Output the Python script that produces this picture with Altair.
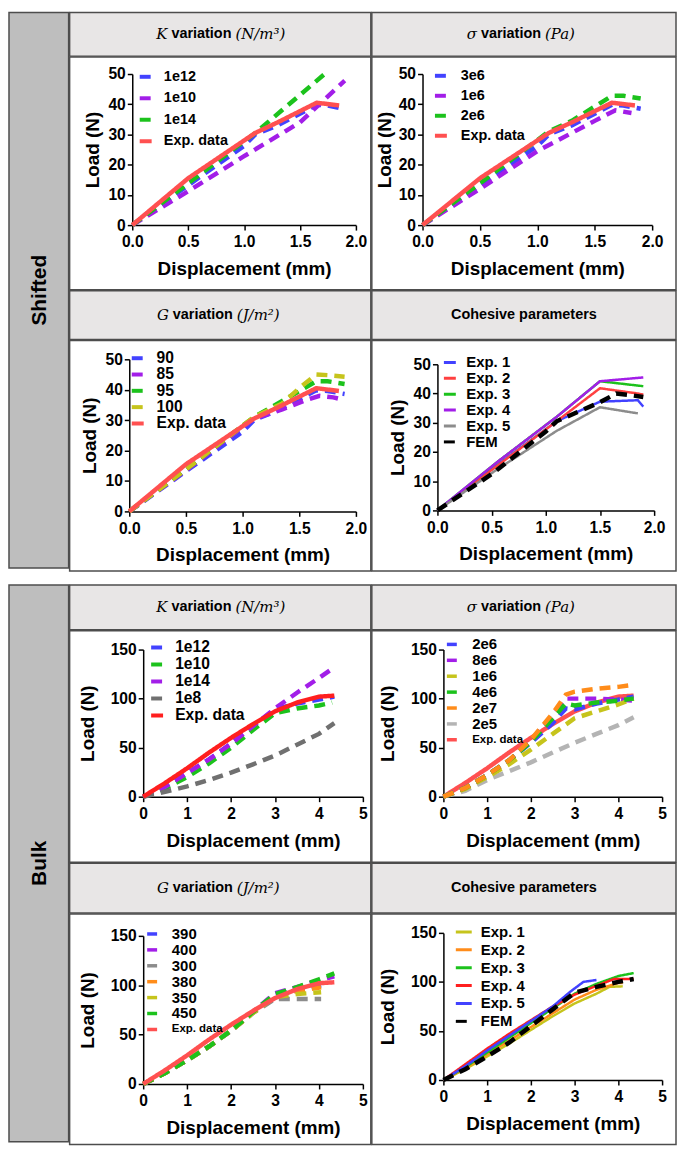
import altair as alt
import pandas as pd

FONT = "Liberation Sans"
SERIF = "DejaVu Serif"
BORDER = "#4d4d4d"
HDR_FILL = "#e8e6e6"
SIDE_FILL = "#bebebe"

ROW_LABELS = ["Shifted", "Bulk"]
X_TITLE = "Displacement (mm)"
Y_TITLE = "Load (N)"
HDR_K = ["K", "variation", "(N/m³)"]
HDR_S = ["σ", "variation", "(Pa)"]
HDR_G = ["G", "variation", "(J/m²)"]
HDR_C = "Cohesive parameters"

SH_XTICKS = [0.0, 0.5, 1.0, 1.5, 2.0]
SH_YTICKS = [0, 10, 20, 30, 40, 50]
BU_XTICKS = [0, 1, 2, 3, 4, 5]
BU_YTICKS = [0, 50, 100, 150]

# ---------------- Shifted ----------------
SH_EXP_X = [0, 0.5, 1.1, 1.3, 1.65, 1.85]
SH_EXP_Y = [0, 15.5, 30.5, 34, 40.5, 39.6]

SK_1E12_X = [0, 0.5, 1.0, 1.1, 1.3, 1.65, 1.75, 1.9]
SK_1E12_Y = [0, 13.2, 26.2, 30, 33, 39.8, 39.6, 38.4]
SK_1E10_X = [0, 0.5, 1.0, 1.5, 1.9]
SK_1E10_Y = [0, 11.2, 22.8, 34, 47.8]
SK_1E14_X = [0, 0.5, 1.1, 1.72]
SK_1E14_Y = [0, 13.8, 30.5, 50]

SS_3E6_X = [0, 0.5, 1.0, 1.1, 1.3, 1.65, 1.75, 1.9]
SS_3E6_Y = [0, 13.2, 26.2, 30, 33, 39.8, 39.6, 38.5]
SS_1E6_X = [0, 0.5, 1.0, 1.5, 1.68, 1.82]
SS_1E6_Y = [0, 12, 24.5, 34.5, 38, 37.1]
SS_2E6_X = [0, 0.5, 1.1, 1.3, 1.65, 1.75, 1.9]
SS_2E6_Y = [0, 13.8, 31, 34.5, 42.8, 42.8, 41.9]

SG_90_X = [0, 0.5, 1.0, 1.1, 1.3, 1.65, 1.75, 1.9]
SG_90_Y = [0, 13.2, 26.2, 30, 33, 39.8, 39.6, 38.6]
SG_85_X = [0, 0.5, 1.1, 1.35, 1.55, 1.68, 1.8, 1.9]
SG_85_Y = [0, 13.5, 30.5, 33.5, 36.5, 38, 37.5, 36.6]
SG_95_X = [0, 0.5, 1.1, 1.5, 1.65, 1.75, 1.9]
SG_95_Y = [0, 13.8, 31, 39.5, 42.8, 42.8, 41.9]
SG_100_X = [0, 0.5, 1.1, 1.35, 1.5, 1.65, 1.75, 1.9]
SG_100_Y = [0, 13.8, 31, 35.5, 40.5, 45, 44.8, 44.3]

SC_E1_X = [0, 0.55, 1.1, 1.5, 1.85, 1.9]
SC_E1_Y = [0, 15.5, 30.5, 37.2, 37.7, 35.5]
SC_E2_X = [0, 0.55, 1.1, 1.5, 1.85, 1.9]
SC_E2_Y = [0, 15.2, 30.5, 41.8, 40, 39.6]
SC_E3_X = [0, 0.55, 1.1, 1.5, 1.9]
SC_E3_Y = [0, 16.5, 32, 44.2, 42.5]
SC_E4_X = [0, 0.55, 1.1, 1.5, 1.9]
SC_E4_Y = [0, 16.5, 32, 44.2, 45.5]
SC_E5_X = [0, 0.55, 1.1, 1.5, 1.85]
SC_E5_Y = [0, 14, 27.2, 35.3, 33.2]
SC_FEM_X = [0, 0.5, 1.0, 1.1, 1.5, 1.65, 1.75, 1.9]
SC_FEM_Y = [0, 12.4, 27, 30.5, 37, 40, 39.6, 38.8]

# ---------------- Bulk ----------------
BU_EXP_X = [0, 0.5, 1, 1.5, 2, 2.5, 3, 3.5, 4, 4.35]
BU_EXP_Y = [0, 14, 29, 45, 60, 74, 87, 96, 102, 103]

BK_1E12_X = [0, 0.5, 1, 1.5, 2, 2.5, 3, 3.5, 4, 4.35]
BK_1E12_Y = [0, 10, 24, 38, 54, 72, 89, 95, 99, 102]
BK_1E10_X = [0, 0.5, 1, 1.5, 2, 2.5, 3, 3.5, 4, 4.3]
BK_1E10_Y = [0, 8.5, 20, 34, 50, 68, 85, 90, 93, 96]
BK_1E14_X = [0, 0.5, 1, 1.5, 2, 2.5, 3, 3.5, 4, 4.35]
BK_1E14_Y = [0, 10, 24, 38, 54, 72, 90, 106, 121, 132]
BK_1E8_X = [0, 0.5, 1, 1.5, 2, 2.5, 3, 3.5, 4, 4.35]
BK_1E8_Y = [0, 5, 10.5, 17, 24.5, 33, 42, 53, 64, 75]

BS_2E6_X = [0, 0.5, 1, 1.5, 2, 2.5, 2.8, 3, 3.5, 4, 4.35]
BS_2E6_Y = [0, 9, 22, 37, 55, 75, 90, 89, 95, 99, 102]
BS_8E6_X = [0, 0.5, 1, 1.5, 2, 2.5, 2.8, 3, 3.5, 4, 4.35]
BS_8E6_Y = [0, 9, 22, 37, 57, 82, 100, 100, 100, 99, 98]
BS_1E6_X = [0, 0.5, 1, 1.5, 2, 2.5, 3, 3.5, 4, 4.35]
BS_1E6_Y = [0, 8, 20, 33, 48, 64, 80, 87, 94, 100]
BS_4E6_X = [0, 0.5, 1, 1.5, 2, 2.5, 2.8, 3, 3.5, 4, 4.35]
BS_4E6_Y = [0, 9, 22, 37, 56, 80, 95, 93, 96, 98, 100]
BS_2E7_X = [0, 0.5, 1, 1.5, 2, 2.5, 2.8, 3, 3.5, 4, 4.35]
BS_2E7_Y = [0, 9, 22, 37, 58, 85, 104, 107, 110, 112, 114]
BS_2E5_X = [0, 0.5, 1, 1.5, 2, 2.5, 3, 3.5, 4, 4.35]
BS_2E5_Y = [0, 6, 17, 26, 35, 45, 55, 64, 73, 81]

BG_390_X = [0, 0.5, 1, 1.5, 2, 2.5, 3, 3.5, 4.05]
BG_390_Y = [0, 11, 24, 38, 54, 72, 90, 95, 100]
BG_400_X = [0, 0.5, 1, 1.5, 2, 2.5, 3, 3.5, 4, 4.35]
BG_400_Y = [0, 11, 24, 38, 54, 73, 92, 98, 105, 109]
BG_300_X = [0, 0.5, 1, 1.5, 2, 2.5, 3, 3.5, 4.05]
BG_300_Y = [0, 11, 24, 38, 54, 72, 86, 86, 86]
BG_380_X = [0, 0.5, 1, 1.5, 2, 2.5, 3, 3.5, 4.05]
BG_380_Y = [0, 11, 24, 38, 54, 72, 90, 94, 98]
BG_350_X = [0, 0.5, 1, 1.5, 2, 2.5, 3, 3.5, 4.05]
BG_350_Y = [0, 11, 24, 38, 54, 72, 88, 91, 93]
BG_450_X = [0, 0.5, 1, 1.5, 2, 2.5, 3, 3.5, 4, 4.35]
BG_450_Y = [0, 11, 24, 38, 54, 73, 91, 98, 106, 112]

BC_E1_X = [0, 0.5, 1, 1.5, 2, 2.5, 3, 3.5, 3.8, 4.1]
BC_E1_Y = [0, 11, 24, 37, 51, 65, 78, 88, 95, 95.5]
BC_E2_X = [0, 0.5, 1, 1.5, 2, 2.5, 3, 3.5, 4, 4.1]
BC_E2_Y = [0, 12, 26, 40, 54, 68, 82, 92, 99, 99]
BC_E3_X = [0, 0.5, 1, 1.5, 2, 2.5, 3, 3.5, 4, 4.35]
BC_E3_Y = [0, 13, 28, 43, 58, 73, 88, 98, 106, 109]
BC_E4_X = [0, 0.5, 1, 1.5, 2, 2.5, 3, 3.5, 3.9, 4.35]
BC_E4_Y = [0, 16, 32, 47, 61, 75, 87, 96, 103, 103]
BC_E5_X = [0, 0.5, 1, 1.5, 2, 2.5, 2.9, 3.2, 3.5]
BC_E5_Y = [0, 14, 30, 45, 60, 75, 90, 100, 102]
BC_FEM_X = [0, 0.5, 1, 1.5, 2, 2.5, 3, 3.5, 4, 4.35]
BC_FEM_Y = [0, 11, 24, 38, 55, 72, 89, 95, 100, 103]

BLUE = "#4242ff"
PURPLE = "#a21ee8"
GREEN = "#1cc21c"
RED = "#ff5050"
RED_D = "#ff1f1f"
GRAY = "#8c8c8c"
GRAY_D = "#707070"
GRAY_L = "#b4b4b4"
YELLOW = "#c6c41c"
ORANGE = "#ff8c1a"
BLACK = "#000000"

DASH = [11, 7]
SOLID = [1, 0]
GAP = -1.5
SMALL_EXP = {"expr": "datum.label == 'Exp. data' ? 11.5 : 15"}


def panel(series, colors, dashes, top, geom, axes, leg, sw_base, sw_top, ytp):
    names = [s[0] for s in series]
    rows = []
    for name, xs, ys in series:
        for i, (a, b) in enumerate(zip(xs, ys)):
            rows.append({"s": name, "x": a, "y": b, "i": i, "top": name in top})
    df = pd.DataFrame(rows)
    w, h, x0, x1, y0, y1 = geom
    xmax, xticks, xfmt, ymax, yticks = axes
    lx, ly, lfs, lrp, lsize, loff, lsw = leg
    ax = dict(domainColor="black", domainWidth=1.5, tickColor="black", tickWidth=1.5,
              tickSize=5, labelFont=FONT, labelFontWeight="bold", labelFontSize=15.7,
              labelColor="black", titleFont=FONT, titleFontWeight="bold", titleFontSize=19,
              titleColor="black", grid=False, labelFlush=False, labelOverlap=False)
    enc = dict(
        x=alt.X("x:Q", title=X_TITLE,
                scale=alt.Scale(domain=[0, xmax], range=[x0, x1], nice=False, zero=False),
                axis=alt.Axis(values=xticks, format=xfmt, offset=y0 - h, labelPadding=5,
                              titlePadding=10, **ax)),
        y=alt.Y("y:Q", title=Y_TITLE,
                scale=alt.Scale(domain=[0, ymax], range=[y0, y1], nice=False, zero=False),
                axis=alt.Axis(values=yticks, offset=-x0, labelPadding=2, titlePadding=ytp, **ax)),
        color=alt.Color("s:N", scale=alt.Scale(domain=names, range=colors),
                        legend=alt.Legend(title=None, orient="none", legendX=lx, legendY=ly,
                                          symbolType="stroke", symbolSize=lsize,
                                          symbolStrokeWidth=lsw, labelFont=FONT,
                                          labelFontWeight="bold", labelFontSize=lfs,
                                          labelColor="black", rowPadding=lrp,
                                          labelOffset=loff, padding=0, labelLimit=200)),
        strokeDash=alt.StrokeDash("s:N", scale=alt.Scale(domain=names, range=dashes)),
        order=alt.Order("i:Q"),
    )
    bottom = alt.Chart(df).mark_line(strokeWidth=sw_base).encode(**enc).transform_filter("!datum.top")
    upper = alt.Chart(df).mark_line(strokeWidth=sw_top).encode(**enc).transform_filter("datum.top")
    return alt.layer(bottom, upper).properties(
        width=w, height=h,
        view=alt.ViewBackground(fill="white", stroke=BORDER, strokeWidth=1.5))


def header(w, h, parts, var_center=None):
    layers = []
    if isinstance(parts, str):
        layers.append(alt.Chart(pd.DataFrame({"t": [parts]})).mark_text(
            font=FONT, fontWeight="bold", fontSize=14.5, baseline="middle", align="center",
            color="black").encode(text="t:N", x=alt.value(w / 2), y=alt.value(h / 2)))
    else:
        sym, word, unit = parts
        half = 30.2
        layers.append(alt.Chart(pd.DataFrame({"t": [sym]})).mark_text(
            font=SERIF, fontStyle="italic", fontSize=15, baseline="middle", align="right",
            color="black").encode(text="t:N", x=alt.value(var_center - half - 4), y=alt.value(h / 2)))
        layers.append(alt.Chart(pd.DataFrame({"t": [word]})).mark_text(
            font=FONT, fontWeight="bold", fontSize=14.5, baseline="middle", align="center",
            color="black").encode(text="t:N", x=alt.value(var_center), y=alt.value(h / 2)))
        layers.append(alt.Chart(pd.DataFrame({"t": [unit]})).mark_text(
            font=SERIF, fontStyle="italic", fontSize=15, baseline="middle", align="left",
            color="black").encode(text="t:N", x=alt.value(var_center + half + 4), y=alt.value(h / 2)))
    return alt.layer(*layers).properties(
        width=w, height=h,
        view=alt.ViewBackground(fill=HDR_FILL, stroke=BORDER, strokeWidth=1.5))


def side(label, h):
    return alt.Chart(pd.DataFrame({"t": [label]})).mark_text(
        font=FONT, fontWeight="bold", fontSize=21, angle=270, baseline="middle",
        align="center", color="black").encode(
        text="t:N", x=alt.value(31), y=alt.value(h / 2)).properties(
        width=60, height=h,
        view=alt.ViewBackground(fill=SIDE_FILL, stroke=BORDER, strokeWidth=1.5))


def ind(c):
    return c.resolve_scale(color="independent", strokeDash="independent").resolve_legend(
        color="independent", strokeDash="independent")


def vc(*charts, spacing=GAP):
    return ind(alt.vconcat(*charts, spacing=spacing))


def hc(*charts, spacing=GAP):
    return ind(alt.hconcat(*charts, spacing=spacing))


SH_AX = (2.0, SH_XTICKS, ".1f", 50, SH_YTICKS)
BU_AX = (5, BU_XTICKS, "d", 150, BU_YTICKS)

p_sk = panel([("1e12", SK_1E12_X, SK_1E12_Y), ("1e10", SK_1E10_X, SK_1E10_Y),
              ("1e14", SK_1E14_X, SK_1E14_Y), ("Exp. data", SH_EXP_X, SH_EXP_Y)],
             [BLUE, PURPLE, GREEN, RED], [DASH, DASH, DASH, SOLID], ["Exp. data"],
             (303, 234, 63, 288, 169, 17), SH_AX,
             (68.5, 11.8, 14.5, 5.6, 144, 10.3, 4), 4.5, 4.5, 6)
p_ss = panel([("3e6", SS_3E6_X, SS_3E6_Y), ("1e6", SS_1E6_X, SS_1E6_Y),
              ("2e6", SS_2E6_X, SS_2E6_Y), ("Exp. data", SH_EXP_X, SH_EXP_Y)],
             [BLUE, PURPLE, GREEN, RED], [DASH, DASH, DASH, SOLID], ["Exp. data"],
             (306, 234, 51, 282, 169, 17), SH_AX,
             (61.5, 10.8, 14.5, 4.1, 144, 12, 4), 4.5, 4.5, 4)
p_sg = panel([("90", SG_90_X, SG_90_Y), ("85", SG_85_X, SG_85_Y), ("95", SG_95_X, SG_95_Y),
              ("100", SG_100_X, SG_100_Y), ("Exp. data", SH_EXP_X, SH_EXP_Y)],
             [BLUE, PURPLE, GREEN, YELLOW, RED], [DASH, DASH, DASH, DASH, SOLID], ["Exp. data"],
             (303, 232, 60, 288, 172, 19), SH_AX,
             (60.5, 9.9, 15.7, 0.4, 144, 11, 4), 4.5, 4.5, 6)
p_sc = panel([("Exp. 1", SC_E1_X, SC_E1_Y), ("Exp. 2", SC_E2_X, SC_E2_Y),
              ("Exp. 3", SC_E3_X, SC_E3_Y), ("Exp. 4", SC_E4_X, SC_E4_Y),
              ("Exp. 5", SC_E5_X, SC_E5_Y), ("FEM", SC_FEM_X, SC_FEM_Y)],
             [BLUE, "#ff4040", GREEN, PURPLE, GRAY, BLACK],
             [SOLID, SOLID, SOLID, SOLID, SOLID, DASH], ["FEM"],
             (306, 232, 66, 284, 171, 24), SH_AX,
             (71, 14.6, 15, 0, 144, 9, 3), 2.5, 4.5, 6)

p_bk = panel([("1e12", BK_1E12_X, BK_1E12_Y), ("1e10", BK_1E10_X, BK_1E10_Y),
              ("1e14", BK_1E14_X, BK_1E14_Y), ("1e8", BK_1E8_X, BK_1E8_Y),
              ("Exp. data", BU_EXP_X, BU_EXP_Y)],
             [BLUE, GREEN, PURPLE, GRAY_D, RED_D], [DASH, DASH, DASH, DASH, SOLID], ["Exp. data"],
             (303, 233, 74, 295, 167, 19), BU_AX,
             (80, 8.9, 15.7, 1.1, 144, 10.2, 4), 4.5, 4.5, 13)
p_bs = panel([("2e6", BS_2E6_X, BS_2E6_Y), ("8e6", BS_8E6_X, BS_8E6_Y),
              ("1e6", BS_1E6_X, BS_1E6_Y), ("4e6", BS_4E6_X, BS_4E6_Y),
              ("2e7", BS_2E7_X, BS_2E7_Y), ("2e5", BS_2E5_X, BS_2E5_Y),
              ("Exp. data", BU_EXP_X, BU_EXP_Y)],
             [BLUE, PURPLE, YELLOW, GREEN, ORANGE, GRAY_L, RED],
             [DASH, DASH, DASH, DASH, DASH, DASH, SOLID], ["2e6", "8e6", "1e6", "4e6", "2e7"],
             (306, 233, 72, 292, 167, 19), BU_AX,
             (73, 6.3, SMALL_EXP, 0, 100, 13, 3.5), 4.5, 4.5, 13)
p_bg = panel([("390", BG_390_X, BG_390_Y), ("400", BG_400_X, BG_400_Y),
              ("300", BG_300_X, BG_300_Y), ("380", BG_380_X, BG_380_Y),
              ("350", BG_350_X, BG_350_Y), ("450", BG_450_X, BG_450_Y),
              ("Exp. data", BU_EXP_X, BU_EXP_Y)],
             [BLUE, PURPLE, GRAY, ORANGE, YELLOW, GREEN, RED],
             [DASH, DASH, DASH, DASH, DASH, DASH, SOLID], ["Exp. data"],
             (303, 232, 74, 295, 171, 22), BU_AX,
             (75.5, 12.6, SMALL_EXP, 0, 100, 12.3, 3.5), 4.5, 4.5, 13)
p_bc = panel([("Exp. 1", BC_E1_X, BC_E1_Y), ("Exp. 2", BC_E2_X, BC_E2_Y),
              ("Exp. 3", BC_E3_X, BC_E3_Y), ("Exp. 4", BC_E4_X, BC_E4_Y),
              ("Exp. 5", BC_E5_X, BC_E5_Y), ("FEM", BC_FEM_X, BC_FEM_Y)],
             [YELLOW, ORANGE, GREEN, RED_D, BLUE, BLACK],
             [SOLID, SOLID, SOLID, SOLID, SOLID, DASH], ["FEM"],
             (306, 232, 72, 292, 167, 19), BU_AX,
             (83, 8.5, 15, 0, 256, 7.7, 3), 2.5, 4.5, 13)

shifted = hc(
    side(ROW_LABELS[0], 559),
    vc(
        hc(vc(header(303, 44, HDR_K, 132.6), p_sk), vc(header(306, 44, HDR_S, 140), p_ss)),
        hc(vc(header(303, 49, HDR_G, 134), p_sg), vc(header(306, 49, HDR_C), p_sc)),
    ),
)
bulk = hc(
    side(ROW_LABELS[1], 560),
    vc(
        hc(vc(header(303, 45, HDR_K, 132.6), p_bk), vc(header(306, 45, HDR_S, 140), p_bs)),
        hc(vc(header(303, 50, HDR_G, 134), p_bg), vc(header(306, 50, HDR_C), p_bc)),
    ),
)

chart = vc(shifted, bulk, spacing=12).properties(padding=0).configure(font=FONT)
chart.save("out.html", embed_options={"renderer": "svg", "actions": False})
